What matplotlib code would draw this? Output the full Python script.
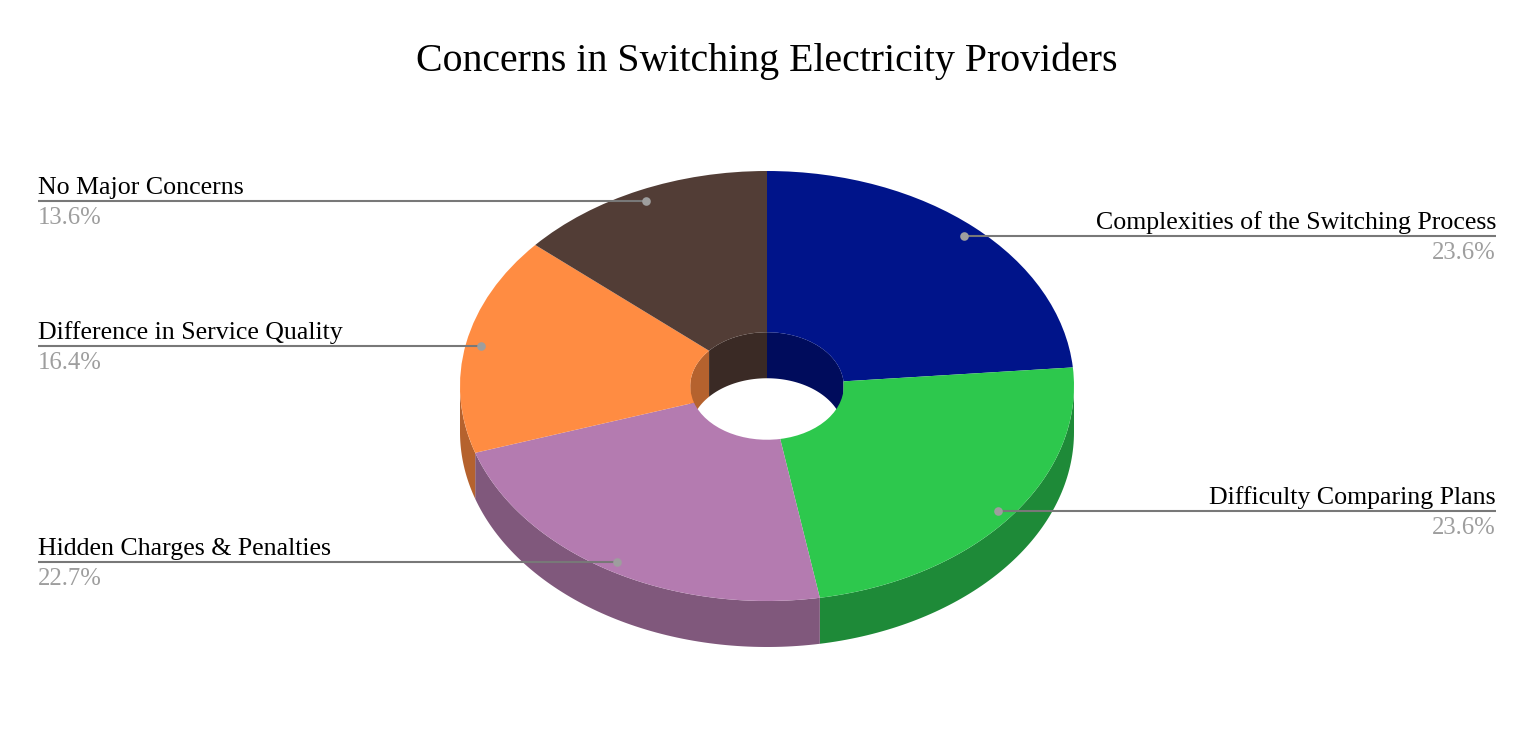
import numpy as np
import matplotlib
matplotlib.use('Agg')
import matplotlib.pyplot as plt

plt.rcParams['font.family'] = ['Liberation Serif', 'DejaVu Serif']

title = 'Concerns in Switching Electricity Providers'
labels = ['Complexities of the Switching Process', 'Difficulty Comparing Plans',
          'Hidden Charges & Penalties', 'Difference in Service Quality', 'No Major Concerns']
values = [23.6, 23.6, 22.7, 16.4, 13.6]
value_labels = ['23.6%', '23.6%', '22.7%', '16.4%', '13.6%']
colors = ['#00148a', '#2dc84d', '#b47bb0', '#ff8c42', '#523d36']
wall_colors = ['#000c5c', '#1e8a38', '#80587c', '#b5622e', '#3a2a25']

W, H = 1534, 754
CX, CY = 767, 386     # pie centre, pixels
RX, RY = 307, 215     # pie radii, pixels
DEPTH = 46 / RY
HOLE = 0.25
LEFT, RIGHT = 38, 1496

fig = plt.figure(figsize=(W / 100, H / 100), dpi=100)
ax = fig.add_axes([0, 0, 1, 1])


def px(x, y):
    # pixel position in the picture -> pie units
    return (x - CX) / RX, (CY - y) / RY


def wall(radius, lo, hi, color, z):
    # side of the extruded pie between two clockwise angles (degrees from 12 o'clock)
    if hi <= lo:
        return
    t = np.radians(np.linspace(lo, hi, 80))
    x = radius * np.sin(t)
    y = radius * np.cos(t)
    ax.fill(np.r_[x, x[::-1]], np.r_[y, y[::-1] - DEPTH], color=color, lw=0, zorder=z)


# slice boundaries in degrees
edges = np.r_[0, np.cumsum(values)] / sum(values) * 360

# outer wall is the front half, the wall inside the hole is the back half
for i in range(len(values)):
    wall(1, max(edges[i], 90), min(edges[i + 1], 270), wall_colors[i], 1)
    wall(HOLE, edges[i], min(edges[i + 1], 90), wall_colors[i], 1)
    wall(HOLE, max(edges[i], 270), edges[i + 1], wall_colors[i], 1)

wedges, _ = ax.pie(values, colors=colors, startangle=90, counterclock=False, radius=1,
                   wedgeprops=dict(width=1 - HOLE, linewidth=0))
for w in wedges:
    w.set_zorder(2)

ax.set_aspect('auto')
ax.set_xlim(px(0, 0)[0], px(W, 0)[0])
ax.set_ylim(px(0, H)[1], px(0, 0)[1])
ax.axis('off')

# leader lines and labels
mids = (edges[:-1] + edges[1:]) / 2
for mid, name, val in zip(mids, labels, value_labels):
    t = np.radians(mid)
    dx, dy = 0.95 * np.sin(t), 0.95 * np.cos(t) - 0.5 / RY
    right_side = dx > 0
    end = px(RIGHT if right_side else LEFT, 0)[0]
    ax.plot([dx, end], [dy, dy], color='#787878', lw=1.5, zorder=3, solid_capstyle='butt')
    ax.plot([dx], [dy], 'o', color='#9e9e9e', ms=6.2, mew=0, zorder=4)
    ha = 'right' if right_side else 'left'
    ax.annotate(name, (end, dy), xytext=(0, 7), textcoords='offset pixels', ha=ha, va='baseline',
                fontsize=18.6, color='black', zorder=5)
    ax.annotate(val, (end, dy), xytext=(0, -23), textcoords='offset pixels', ha=ha, va='baseline',
                fontsize=17.8, color='#9e9e9e', zorder=5)

tx, ty = px(767, 71)
ax.text(tx, ty, title, ha='center', va='baseline', fontsize=28.75, color='black')

fig.savefig('out.png', dpi=100, facecolor='white')
